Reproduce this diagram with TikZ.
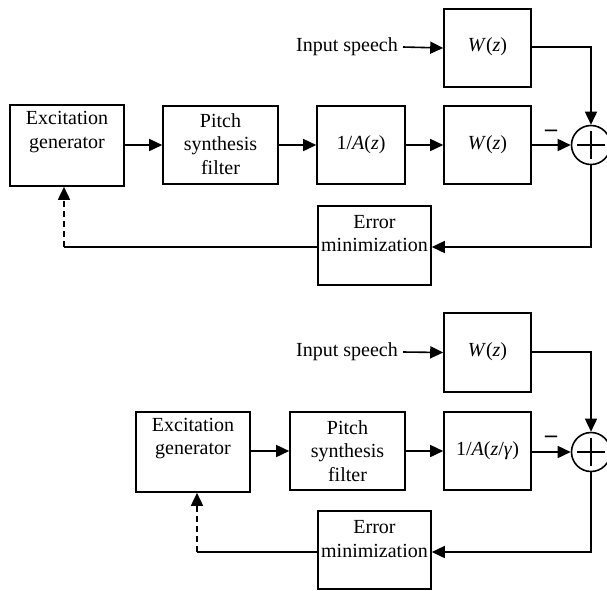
\documentclass[tikz,border=0pt]{standalone}
\usepackage{fontspec}
\setmainfont{Liberation Serif}
\usetikzlibrary{arrows.meta}
\begin{document}
\begin{tikzpicture}[x=1pt,y=-1pt,
  blk/.style={draw, line width=1.6pt, inner sep=0pt},
  txt/.style={font=\fontsize{20}{23.5}\selectfont, align=center, inner sep=0pt},
  conn/.style={line width=1.6pt, -{Triangle[length=13pt,width=12pt]}},
  wire/.style={line width=1.6pt},
  dashconn/.style={line width=1.6pt, dash pattern=on 6pt off 4pt, -{Triangle[length=13pt,width=12pt]}},
  sumnode/.style={draw, circle, line width=1.6pt, minimum size=39pt, inner sep=0pt},
  minus/.style={font=\fontsize{24}{24}\selectfont\bfseries, inner sep=0pt}]
\path[use as bounding box] (0,0) rectangle (607,590);

% ---------------- top diagram ----------------
\node[blk, minimum width=87pt, minimum height=78pt] (wzA) at (487.5,48) {};
\node[txt] (wzAt) at (487.5,47) {\textit{W}(\textit{z})};
\node[txt, anchor=east] (inA) at (398,47) {Input speech};

\node[blk, minimum width=114pt, minimum height=81pt] (excA) at (67,145.5) {};
\node[txt] (excAt) at (67,132) {Excitation\\generator};
\node[blk, minimum width=115pt, minimum height=78pt] (pitA) at (220.5,145) {};
\node[txt] (pitAt) at (220.5,144) {Pitch\\synthesis\\filter};
\node[blk, minimum width=88pt, minimum height=78pt] (iaA) at (361,145) {};
\node[txt] (iaAt) at (361,145) {1/\textit{A}(\textit{z})};
\node[blk, minimum width=87pt, minimum height=78pt] (wzB) at (487.5,145) {};
\node[txt] (wzBt) at (487.5,145) {\textit{W}(\textit{z})};
\node[sumnode] (sumA) at (591,145) {};
\draw[wire] ([xshift=-14pt]sumA.center) -- ([xshift=14pt]sumA.center);
\draw[wire] ([yshift=-14pt]sumA.center) -- ([yshift=14pt]sumA.center);
\node[minus] (minA) at (551,133) {–};
\node[blk, minimum width=113pt, minimum height=79pt] (errA) at (374.5,245.5) {};
\node[txt] (errAt) at (374.5,233.5) {Error\\minimization};

\coordinate (cA1) at (591,47);
\coordinate (cA2) at (591,247);
\coordinate (cA3) at (64,247);

\draw[conn] ([xshift=5pt]inA.east) -- (wzA.west);
\draw[conn] (wzA.east |- cA1) -- (cA1) -- (sumA.north);
\draw[conn] (excA.east |- pitA.west) -- (pitA.west);
\draw[conn] (pitA.east) -- (iaA.west);
\draw[conn] (iaA.east) -- (wzB.west);
\draw[conn] (wzB.east) -- (sumA.west);
\draw[conn] (sumA.south) -- (cA2) -- (errA.east |- cA2);
\draw[wire] (errA.west |- cA3) -- (cA3);
\draw[dashconn] (cA3) -- (cA3 |- excA.south);

% ---------------- bottom diagram ----------------
\node[blk, minimum width=87pt, minimum height=79pt] (wzC) at (487.5,352.5) {};
\node[txt] (wzCt) at (487.5,352) {\textit{W}(\textit{z})};
\node[txt, anchor=east] (inC) at (398,352) {Input speech};

\node[blk, minimum width=114pt, minimum height=80pt] (excC) at (193,452) {};
\node[txt] (excCt) at (193,438.5) {Excitation\\generator};
\node[blk, minimum width=115pt, minimum height=78pt] (pitC) at (347.5,451) {};
\node[txt] (pitCt) at (347.5,451) {Pitch\\synthesis\\filter};
\node[blk, minimum width=87pt, minimum height=78pt] (iaC) at (487.5,451) {};
\node[txt] (iaCt) at (487.5,451) {1/\textit{A}(\textit{z}/\textit{γ})};
\node[sumnode] (sumC) at (591,452) {};
\draw[wire] ([xshift=-14pt]sumC.center) -- ([xshift=14pt]sumC.center);
\draw[wire] ([yshift=-14pt]sumC.center) -- ([yshift=14pt]sumC.center);
\node[minus] (minC) at (551,439) {–};
\node[blk, minimum width=113pt, minimum height=78pt] (errC) at (374.5,550) {};
\node[txt] (errCt) at (374.5,539) {Error\\minimization};

\coordinate (cC1) at (591,352);
\coordinate (cC2) at (591,552);
\coordinate (cC3) at (197,552);

\draw[conn] ([xshift=5pt]inC.east) -- (wzC.west);
\draw[conn] (wzC.east |- cC1) -- (cC1) -- (sumC.north);
\draw[conn] (excC.east |- pitC.west) -- (pitC.west);
\draw[conn] (pitC.east) -- (iaC.west);
\draw[conn] (iaC.east |- sumC.west) -- (sumC.west);
\draw[conn] (sumC.south) -- (cC2) -- (errC.east |- cC2);
\draw[wire] (errC.west |- cC3) -- (cC3);
\draw[dashconn] (cC3) -- (cC3 |- excC.south);
\end{tikzpicture}
\end{document}
